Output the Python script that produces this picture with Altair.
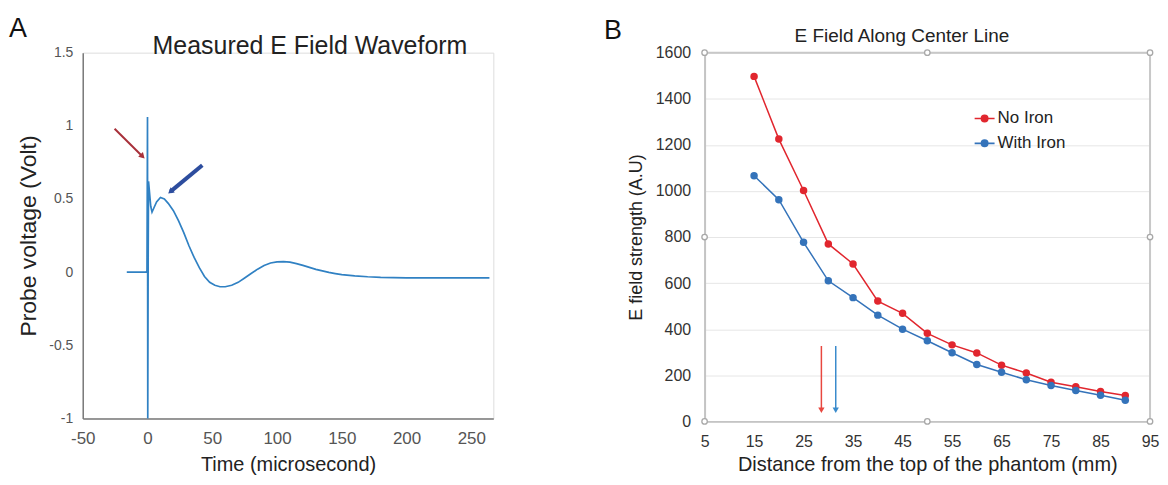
import altair as alt
import pandas as pd

FONT = "Liberation Sans"

# ---------------- Panel A data ----------------
wave_t = [-16, -1, -0.4, 0, 0.2, 0.5, 0.8, 1.5, 2.5, 3.5, 5, 7, 10, 13, 16, 20, 24, 28,
          32, 36, 40, 44, 48, 52, 56, 60, 65, 70, 75, 80, 85, 90, 95, 100, 105, 110,
          115, 120, 125, 130, 135, 140, 145, 150, 160, 170, 180, 190, 200, 220, 240, 264]
wave_v = [0, 0, 0.01, 1.06, -1.0, 0.05, 0.62, 0.55, 0.45, 0.41, 0.44, 0.48, 0.51, 0.50,
          0.47, 0.42, 0.35, 0.27, 0.18, 0.10, 0.03, -0.03, -0.07, -0.09, -0.10, -0.10,
          -0.09, -0.07, -0.04, -0.01, 0.02, 0.045, 0.062, 0.07, 0.072, 0.068, 0.058,
          0.046, 0.032, 0.019, 0.008, -0.002, -0.01, -0.017, -0.026, -0.032, -0.036,
          -0.038, -0.04, -0.04, -0.04, -0.04]

# annotation arrows in panel A (data units)
arrowA_x0 = [-25.4, 42.3]
arrowA_y0 = [0.98, 0.73]
arrowA_x1 = [-3.8, 17.7]
arrowA_y1 = [0.79, 0.55]
arrowA_col = ["#a8303a", "#2d4d9e"]
arrowA_w = [2, 4]
arrowA_angle = [315, 51]

A_xticks = [-50, 0, 50, 100, 150, 200, 250]
A_yticks = [-1, -0.5, 0, 0.5, 1, 1.5]

# ---------------- Panel B data ----------------
dist_mm = [15, 20, 25, 30, 35, 40, 45, 50, 55, 60, 65, 70, 75, 80, 85, 90]
no_iron = [1497, 1225, 1002, 770, 683, 522, 469, 382, 332, 297, 244, 210, 170, 150, 130, 112]
with_iron = [1066, 962, 777, 610, 537, 461, 400, 350, 298, 247, 213, 181, 156, 134, 113, 92]
series = ["No Iron", "With Iron"]
RED = "#e1262e"
BLUE = "#3473ba"

arrowB_x = [28.6, 31.5]
arrowB_top = [327, 327]
arrowB_tip = [48, 48]
arrowB_col = ["#e8473f", "#3a8bcc"]

handle_x = [5, 50, 95, 5, 95, 5, 50, 95]
handle_y = [1600, 1600, 1600, 800, 800, 0, 0, 0]

B_xticks = [5, 15, 25, 35, 45, 55, 65, 75, 85, 95]
B_yticks = [0, 200, 400, 600, 800, 1000, 1200, 1400, 1600]

# ---------------- Panel A ----------------
WA, HA = 412, 367
wave_df = pd.DataFrame({"t": wave_t, "v": wave_v, "i": list(range(len(wave_t)))})
xA = alt.Scale(domain=[-50, 267], nice=False, zero=False)
yA = alt.Scale(domain=[-1, 1.5], nice=False, zero=False)

axA_x = alt.Axis(values=A_xticks, title="Time (microsecond)", grid=False, ticks=False,
                 domainColor="#7a7a7a", domainWidth=1.5, labelColor="#555555",
                 labelFontSize=17, labelPadding=12, labelFont=FONT, labelFlush=False,
                 titleFont=FONT, titleFontSize=20, titleFontWeight="normal",
                 titleColor="#222222", titlePadding=8, labelExpr="datum.value + ''")
axA_y = alt.Axis(values=A_yticks, title="Probe voltage (Volt)", grid=False, ticks=False,
                 domainColor="#7a7a7a", domainWidth=1.5, labelColor="#555555",
                 labelFontSize=14, labelPadding=10, labelFont=FONT, labelFlush=False,
                 titleFont=FONT, titleFontSize=23, titleFontWeight="normal",
                 titleColor="#222222", titlePadding=8, labelExpr="datum.value + ''")

wave = alt.Chart(wave_df).mark_line(color="#3081c3", strokeWidth=1.7).encode(
    x=alt.X("t:Q", scale=xA, axis=axA_x),
    y=alt.Y("v:Q", scale=yA, axis=axA_y),
    order="i:Q",
)

arrA_df = pd.DataFrame({"x0": arrowA_x0, "y0": arrowA_y0, "x1": arrowA_x1,
                        "y1": arrowA_y1, "c": arrowA_col, "w": arrowA_w, "a": arrowA_angle})
arrA_line = alt.Chart(arrA_df).mark_rule().encode(
    x=alt.X("x0:Q", scale=xA), y=alt.Y("y0:Q", scale=yA),
    x2="x1:Q", y2="y1:Q",
    color=alt.Color("c:N", scale=None),
    strokeWidth=alt.StrokeWidth("w:Q", scale=None),
)
arrA_head = alt.Chart(arrA_df).mark_point(shape="triangle-down", filled=True, size=45, opacity=1).encode(
    x=alt.X("x1:Q", scale=xA), y=alt.Y("y1:Q", scale=yA),
    color=alt.Color("c:N", scale=None),
    angle=alt.Angle("a:Q", scale=None),
)

A_letter = alt.Chart(pd.DataFrame({"s": ["A"]})).mark_text(
    font=FONT, fontSize=27, color="#111111", align="center", baseline="middle"
).encode(text="s:N", x=alt.value(-65), y=alt.value(-24))
A_title = alt.Chart(pd.DataFrame({"s": ["Measured E Field Waveform"]})).mark_text(
    font=FONT, fontSize=25, color="#222222", align="center", baseline="middle"
).encode(text="s:N", x=alt.value(228), y=alt.value(-7))

panelA = alt.layer(wave, arrA_line, arrA_head, A_letter, A_title).properties(width=WA, height=HA)

# ---------------- Panel B ----------------
WB, HB = 447, 370
long_df = pd.DataFrame({
    "d": dist_mm + dist_mm,
    "E": no_iron + with_iron,
    "series": [series[0]] * len(dist_mm) + [series[1]] * len(dist_mm),
})
xB = alt.Scale(domain=[5, 95], nice=False, zero=False)
yB = alt.Scale(domain=[0, 1600], nice=False)

axB_x = alt.Axis(values=B_xticks, title="Distance from the top of the phantom (mm)",
                 grid=False, ticks=False, domainColor="#c4c4c4", domainWidth=2,
                 labelColor="#333333", labelFontSize=16, labelPadding=12, labelFont=FONT,
                 labelFlush=False, titleFont=FONT, titleFontSize=20,
                 titleFontWeight="normal", titleColor="#222222", titlePadding=5)
axB_y = alt.Axis(values=B_yticks, title="E field strength (A.U)", grid=True, format="d",
                 gridColor="#e6e6e6", gridWidth=1, ticks=False, domainColor="#c4c4c4",
                 domainWidth=2, labelColor="#333333", labelFontSize=16, labelPadding=14,
                 labelFont=FONT, labelFlush=False, titleFont=FONT, titleFontSize=18,
                 titleFontWeight="normal", titleColor="#222222", titlePadding=10)

legend_path = "M-1,0L1,0M-0.32,0a0.32,0.32 0 1,0 0.64,0a0.32,0.32 0 1,0 -0.64,0Z"
colorB = alt.Color("series:N", scale=alt.Scale(domain=series, range=[RED, BLUE]),
                   legend=alt.Legend(title=None, orient="none", legendX=270, legendY=55,
                                     symbolType=legend_path, symbolSize=400,
                                     symbolStrokeWidth=1.6, labelFont=FONT,
                                     labelFontSize=17, labelColor="#222222",
                                     rowPadding=6, labelOffset=2))

linesB = alt.Chart(long_df).mark_line(
    strokeWidth=1.5, point=alt.OverlayMarkDef(filled=True, size=56)
).encode(
    x=alt.X("d:Q", scale=xB, axis=axB_x),
    y=alt.Y("E:Q", scale=yB, axis=axB_y),
    color=colorB,
)

arrB_df = pd.DataFrame({"x": arrowB_x, "top": arrowB_top, "tip": arrowB_tip, "c": arrowB_col})
arrB_line = alt.Chart(arrB_df).mark_rule(strokeWidth=1.5).encode(
    x=alt.X("x:Q", scale=xB), y=alt.Y("top:Q", scale=yB), y2="tip:Q",
    color=alt.Color("c:N", scale=None),
)
arrB_head = alt.Chart(arrB_df).mark_point(shape="triangle-down", filled=True, size=40, opacity=1).encode(
    x=alt.X("x:Q", scale=xB), y=alt.Y("tip:Q", scale=yB),
    color=alt.Color("c:N", scale=None),
)

frame_df = pd.DataFrame({"x0": [5, 95], "x1": [95, 95], "y0": [1600, 0], "y1": [1600, 1600]})
frame = alt.Chart(frame_df).mark_rule(color="#c8c8c8", strokeWidth=2).encode(
    x=alt.X("x0:Q", scale=xB), x2="x1:Q",
    y=alt.Y("y0:Q", scale=yB), y2="y1:Q",
)
handles = alt.Chart(pd.DataFrame({"x": handle_x, "y": handle_y})).mark_point(
    shape="circle", filled=True, fill="white", stroke="#a8a8a8", strokeWidth=1.3,
    size=30, opacity=1
).encode(x=alt.X("x:Q", scale=xB), y=alt.Y("y:Q", scale=yB))

B_letter = alt.Chart(pd.DataFrame({"s": ["B"]})).mark_text(
    font=FONT, fontSize=27, color="#111111", align="center", baseline="middle"
).encode(text="s:N", x=alt.value(-92), y=alt.value(-22))
B_title = alt.Chart(pd.DataFrame({"s": ["E Field Along Center Line"]})).mark_text(
    font=FONT, fontSize=19, color="#222222", align="center", baseline="middle"
).encode(text="s:N", x=alt.value(198), y=alt.value(-17))

panelB = alt.layer(frame, linesB, arrB_line, arrB_head, handles, B_letter, B_title).properties(
    width=WB, height=HB
)

chart = alt.hconcat(panelA, panelB, spacing=109).resolve_scale(
    color="independent"
).properties(
    padding={"left": 0, "top": 5, "right": 0, "bottom": 0}
).configure_view(strokeWidth=0).configure(font=FONT)

chart.save("out.html", embed_options={"renderer": "svg", "actions": False})
